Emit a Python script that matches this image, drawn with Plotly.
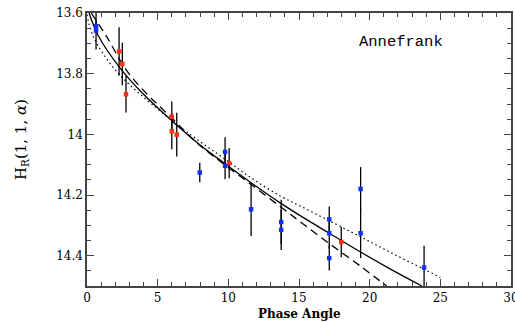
import plotly.graph_objects as go

# Observations
blue_x = [0.64, 0.64, 7.98, 9.77, 9.77, 11.61, 13.74, 13.74, 17.14, 17.14, 17.14, 19.36, 19.36, 23.85]
blue_y = [13.644, 13.658, 14.126, 14.058, 14.104, 14.247, 14.289, 14.315, 14.28, 14.326, 14.408, 14.18, 14.326, 14.439]
blue_err = [0.02, 0.062, 0.032, 0.048, 0.044, 0.088, 0.073, 0.066, 0.042, 0.05, 0.041, 0.072, 0.082, 0.072]

red_x = [2.27, 2.5, 2.76, 6.0, 6.0, 6.35, 10.06, 17.99]
red_y = [13.727, 13.768, 13.868, 13.942, 13.99, 14.001, 14.095, 14.355]
red_err = [0.08, 0.07, 0.06, 0.05, 0.059, 0.072, 0.05, 0.05]

# Model curves
solid_x = [0.15, 0.8, 2.4, 4.0, 6.0, 8.0, 9.77, 11.66, 13.67, 15.08, 17.14, 19.36, 21.5, 23.7]
solid_y = [13.6, 13.675, 13.785, 13.868, 13.955, 14.035, 14.097, 14.161, 14.226, 14.268, 14.326, 14.388, 14.445, 14.5]

dashed_x = [0.3, 1.39, 2.81, 4.22, 5.3, 6.5, 7.53, 8.94, 11.31, 13.67, 15.08, 17.14, 19.36, 21.2]
dashed_y = [13.6, 13.678, 13.79, 13.866, 13.915, 13.97, 14.018, 14.072, 14.155, 14.238, 14.288, 14.36, 14.435, 14.5]

dotted_x = [0.0, 0.45, 2.1, 4.93, 7.0, 9.77, 11.66, 13.67, 15.08, 17.14, 19.36, 21.5, 23.85, 25.0]
dotted_y = [13.605, 13.678, 13.793, 13.914, 13.99, 14.082, 14.145, 14.203, 14.236, 14.285, 14.338, 14.39, 14.445, 14.472]

y_ticks = [13.6, 13.8, 14.0, 14.2, 14.4]
y_ticktext = ["13.6", "13.8", "14", "14.2", "14.4"]
x_ticks = [0, 5, 10, 15, 20, 25, 30]

fig = go.Figure()
fig.add_trace(go.Scatter(x=solid_x, y=solid_y, mode="lines", line=dict(color="black", width=1.3, shape="spline"), showlegend=False))
fig.add_trace(go.Scatter(x=dashed_x, y=dashed_y, mode="lines", line=dict(color="black", width=1.3, dash="8px,5px", shape="spline"), showlegend=False))
fig.add_trace(go.Scatter(x=dotted_x, y=dotted_y, mode="lines", line=dict(color="black", width=1.2, dash="1.5px,3px", shape="spline"), showlegend=False))

fig.add_trace(go.Scatter(x=red_x, y=red_y, mode="markers",
                         marker=dict(color="#ff3010", size=4.5, symbol="square"),
                         error_y=dict(type="data", array=red_err, color="black", thickness=1.3, width=0),
                         showlegend=False))
fig.add_trace(go.Scatter(x=blue_x, y=blue_y, mode="markers",
                         marker=dict(color="#1030ff", size=4.5, symbol="square"),
                         error_y=dict(type="data", array=blue_err, color="black", thickness=1.3, width=0),
                         showlegend=False))

axis_font = dict(family="DejaVu Serif", size=12, color="black")
fig.update_layout(
    width=515, height=322,
    margin=dict(l=87, r=4, t=13, b=36, autoexpand=False),
    plot_bgcolor="white", paper_bgcolor="white",
    xaxis=dict(range=[0, 30], tickvals=x_ticks, ticks="inside", ticklen=7, tickwidth=1,
               tickcolor="#444", showgrid=False, zeroline=False, showline=True,
               linecolor="#444", linewidth=1.5, mirror="ticks", tickfont=axis_font,
               ticklabeloverflow="allow", automargin=False,
               minor=dict(dtick=1, ticks="inside", ticklen=4, tickcolor="#444", showgrid=False)),
    yaxis=dict(range=[14.5, 13.6], tickvals=y_ticks, ticktext=y_ticktext, ticks="inside", ticklen=7,
               tickwidth=1, tickcolor="#444", showgrid=False, zeroline=False, showline=True,
               linecolor="#444", linewidth=1.5, mirror="ticks", tickfont=axis_font, automargin=False,
               minor=dict(dtick=0.05, ticks="inside", ticklen=4, tickcolor="#444", showgrid=False)),
    annotations=[
        dict(text="Annefrank", x=22.25, y=13.695, xref="x", yref="y", showarrow=False,
             font=dict(family="Liberation Mono", size=15.5, color="black")),
        dict(text="<b>Phase Angle</b>", x=0.5, y=-0.103, xref="paper", yref="paper", showarrow=False,
             xanchor="center", yanchor="middle",
             font=dict(family="DejaVu Serif", size=12, color="black")),
        dict(text="H<sub>R</sub>(1, 1, <i>α</i>)", x=-0.153, y=0.535, xref="paper", yref="paper",
             showarrow=False, textangle=-90, xanchor="center", yanchor="middle",
             font=dict(family="DejaVu Serif", size=15, color="black")),
    ],
)

fig.write_html("out.html", config={"displayModeBar": False},
               post_script="document.body.style.margin='0px';document.body.style.padding='0px';document.body.style.overflow='hidden';")
